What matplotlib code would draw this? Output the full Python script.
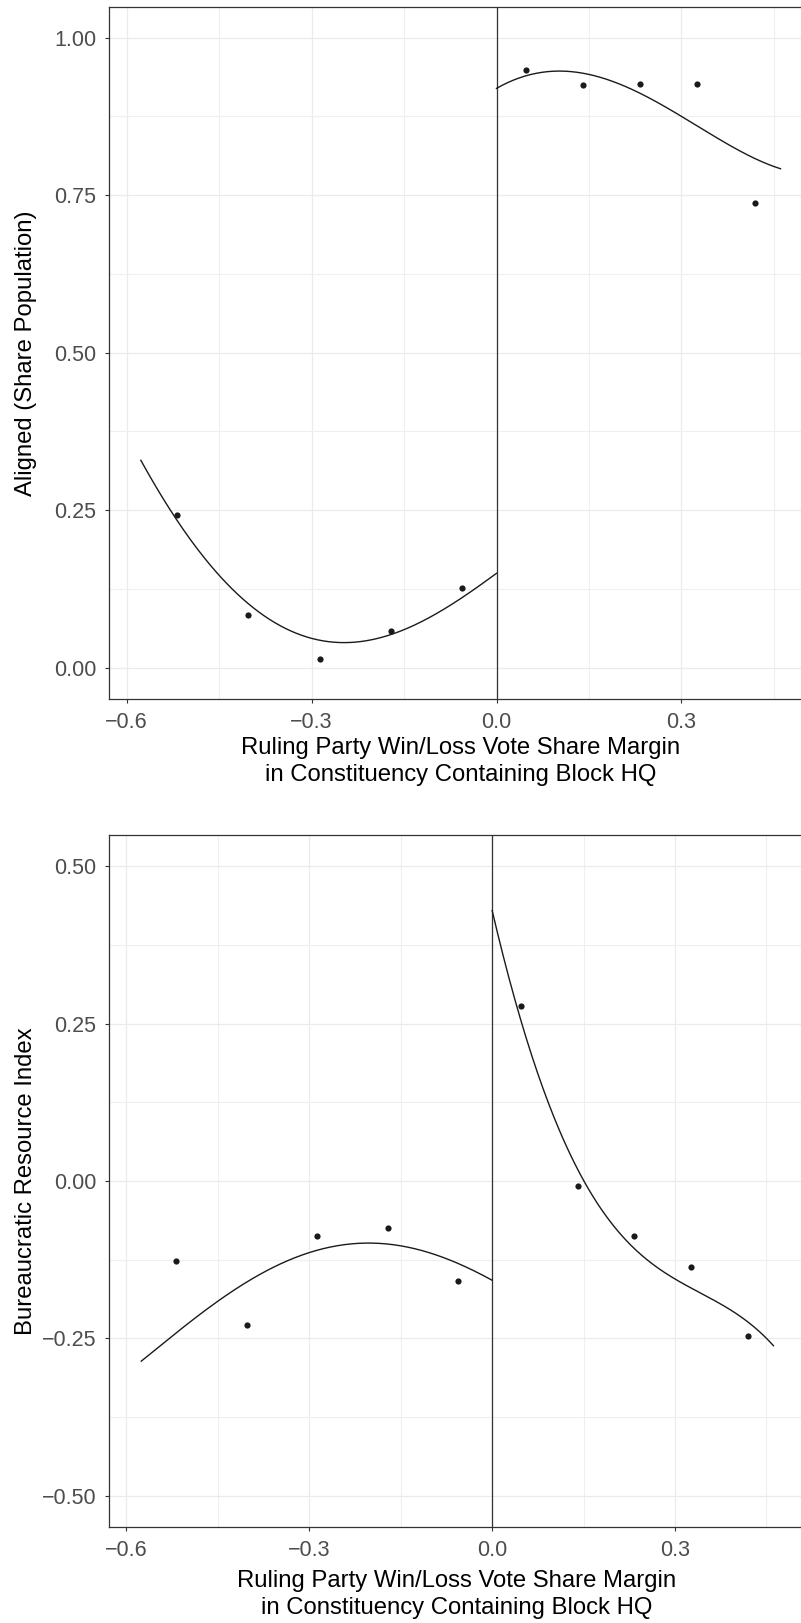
import matplotlib
matplotlib.use("Agg")
import matplotlib.pyplot as plt
import numpy as np

plt.rcParams['font.family'] = ['Liberation Sans', 'DejaVu Sans']

# ---- data ----
bin_x = [-0.519, -0.403, -0.287, -0.171, -0.056, 0.048, 0.141, 0.233, 0.326, 0.419]

aligned_y = [0.243, 0.083, 0.014, 0.059, 0.126, 0.949, 0.924, 0.926, 0.926, 0.737]
bureau_y = [-0.127, -0.228, -0.087, -0.075, -0.158, 0.278, -0.007, -0.087, -0.136, -0.246]

# fitted curves
aligned_fit_left_x = [-0.577, -0.52, -0.45, -0.431, -0.4035, -0.35, -0.3, -0.2465, -0.2, -0.172, -0.15, -0.1, -0.057, 0.0]
aligned_fit_left_y = [0.328, 0.240, 0.145, 0.125, 0.102, 0.068, 0.048, 0.039, 0.044, 0.053, 0.062, 0.083, 0.111, 0.150]
aligned_fit_right_x = [0.0, 0.0486, 0.0972, 0.1404, 0.189, 0.2323, 0.3003, 0.351, 0.405, 0.4608]
aligned_fit_right_y = [0.919, 0.9408, 0.946, 0.9429, 0.9306, 0.9122, 0.875, 0.8443, 0.815, 0.7919]

bureau_fit_left_x = [-0.5757, -0.517, -0.448, -0.4023, -0.35, -0.299, -0.241, -0.189, -0.148, -0.1, -0.0551, 0.0]
bureau_fit_left_y = [-0.2856, -0.2416, -0.187, -0.1595, -0.135, -0.1134, -0.1002, -0.0986, -0.1023, -0.114, -0.133, -0.1568]
bureau_fit_right_x = [0.0, 0.0232, 0.0478, 0.0779, 0.1107, 0.1506, 0.1926, 0.2308, 0.2692, 0.3008, 0.362, 0.4111, 0.4615]
bureau_fit_right_y = [0.4285, 0.341, 0.251, 0.166, 0.0815, -0.0032, -0.0667, -0.1039, -0.133, -0.1542, -0.1886, -0.2204, -0.2601]

x_major = [-0.6, -0.3, 0.0, 0.3]
x_minor = [-0.45, -0.15, 0.15, 0.45]
x_labels = ["\u22120.6", "\u22120.3", "0.0", "0.3"]

top_major = [0.0, 0.25, 0.5, 0.75, 1.0]
top_minor = [0.125, 0.375, 0.625, 0.875]
top_labels = ["0.00", "0.25", "0.50", "0.75", "1.00"]

bot_major = [-0.5, -0.25, 0.0, 0.25, 0.5]
bot_minor = [-0.375, -0.125, 0.125, 0.375]
bot_labels = ["\u22120.50", "\u22120.25", "0.00", "0.25", "0.50"]

xlabel = "Ruling Party Win/Loss Vote Share Margin\nin Constituency Containing Block HQ"

W, H = 801, 1623
fig = plt.figure(figsize=(W / 100, H / 100), dpi=100)


def smooth_line(xs, ys, deg=4, n=200):
    """Smooth rendering of the read-off fitted line (least-squares polynomial)."""
    xs = np.asarray(xs, float)
    ys = np.asarray(ys, float)
    c = np.polyfit(xs, ys, deg)
    xx = np.linspace(xs.min(), xs.max(), n)
    return xx, np.polyval(c, xx)


def px_rect(left, right, top, bottom):
    return [left / W, 1 - bottom / H, (right - left) / W, (bottom - top) / H]


def style(ax, yticks, yminor, ylabels, ylim):
    ax.set_xlim(-0.629, 0.512)
    ax.set_ylim(*ylim)
    ax.set_xticks(x_major)
    ax.set_xticklabels(x_labels)
    ax.set_xticks(x_minor, minor=True)
    ax.set_yticks(yticks)
    ax.set_yticklabels(ylabels)
    ax.set_yticks(yminor, minor=True)
    ax.grid(True, which='major', color='#EBEBEB', lw=0.9, zorder=0)
    ax.grid(True, which='minor', color='#EFEFEF', lw=0.8, zorder=0)
    ax.set_axisbelow(True)
    for s in ax.spines.values():
        s.set_color('#333333')
        s.set_linewidth(0.9)
    ax.tick_params(which='major', length=3, width=0.8, color='#333333',
                   labelsize=15.5, labelcolor='#4D4D4D', pad=6)
    ax.tick_params(which='minor', length=0)
    ax.axvline(0, color='#333333', lw=0.9, zorder=2)


# top panel
ax1 = fig.add_axes(px_rect(108.8, 812.1, 6.7, 699.3))
style(ax1, top_major, top_minor, top_labels, (-0.050, 1.049))
ax1.plot(*smooth_line(aligned_fit_left_x, aligned_fit_left_y), color='#1a1a1a', lw=1.0, zorder=3)
ax1.plot(*smooth_line(aligned_fit_right_x, aligned_fit_right_y), color='#1a1a1a', lw=1.0, zorder=3)
ax1.scatter(bin_x, aligned_y, s=20, color='#1a1a1a', zorder=4, linewidths=0)

# bottom panel
ax2 = fig.add_axes(px_rect(108.8, 804.2, 835, 1527.3))
style(ax2, bot_major, bot_minor, bot_labels, (-0.55, 0.55))
ax2.plot(*smooth_line(bureau_fit_left_x, bureau_fit_left_y), color='#1a1a1a', lw=1.0, zorder=3)
ax2.plot(*smooth_line(bureau_fit_right_x, bureau_fit_right_y), color='#1a1a1a', lw=1.0, zorder=3)
ax2.scatter(bin_x, bureau_y, s=20, color='#1a1a1a', zorder=4, linewidths=0)

# labels
fig.text(26 / W, 1 - 353 / H, "Aligned (Share Population)", rotation=90,
         ha='center', va='center', fontsize=17.2, color='black')
fig.text(26 / W, 1 - 1181 / H, "Bureaucratic Resource Index", rotation=90,
         ha='center', va='center', fontsize=17.2, color='black')
fig.text(460.4 / W, 1 - 737 / H, xlabel, ha='center', va='top', fontsize=17.2,
         color='black', linespacing=1.3)
fig.text(456.5 / W, 1 - 1570 / H, xlabel, ha='center', va='top', fontsize=17.2,
         color='black', linespacing=1.3)

fig.savefig("out.png", dpi=100)
